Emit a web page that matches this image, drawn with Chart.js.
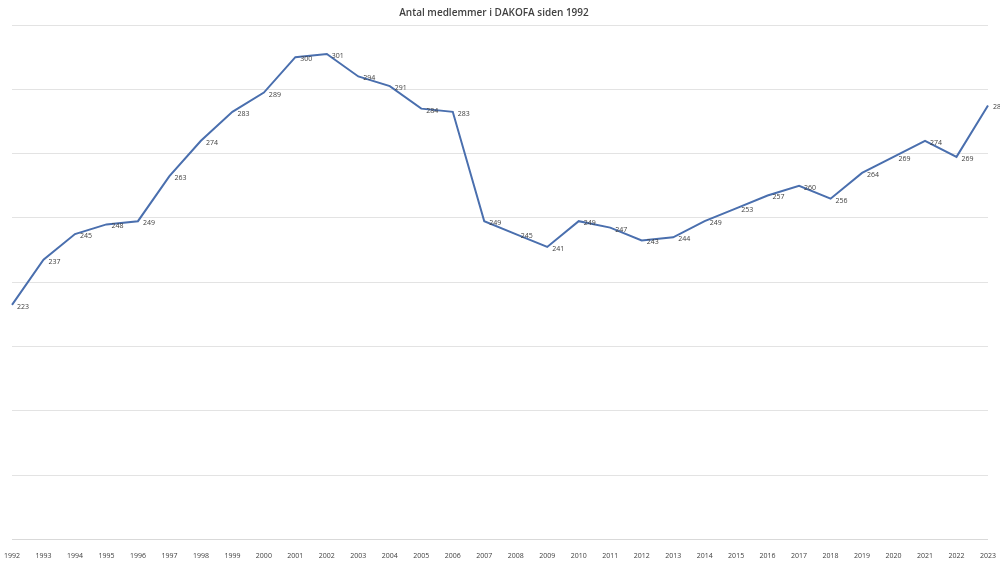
<!DOCTYPE html>
<html><head><meta charset="utf-8">
<script src="https://cdn.jsdelivr.net/npm/chart.js@4"></script>
<style>html,body{margin:0;padding:0;background:#fff}#w{width:1000px;height:564px}</style>
</head><body><div id="w"><canvas id="c"></canvas></div>
<script>
const years = ["1992","1993","1994","1995","1996","1997","1998","1999","2000","2001","2002","2003","2004","2005","2006","2007","2008","2009","2010","2011","2012","2013","2014","2015","2016","2017","2018","2019","2020","2021","2022","2023"];
const members = [223,237,245,248,249,263,274,283,289,300,301,294,291,284,283,249,245,241,249,247,243,244,249,253,257,260,256,264,269,274,269,285];
const labelsPlugin = {
  id:'vals',
  afterDatasetsDraw(chart){
    const ctx = chart.ctx, meta = chart.getDatasetMeta(0);
    ctx.save(); ctx.font='7px "Open Sans", sans-serif'; ctx.fillStyle='#404040';
    ctx.textBaseline='middle'; ctx.textAlign='left';
    meta.data.forEach((p,i)=>{ ctx.fillText(members[i], p.x+5, p.y+2); });
    ctx.restore();
  }
};
new Chart(document.getElementById('c'),{
  type:'line',
  data:{labels:years,datasets:[{data:members,borderColor:'#4a6fae',borderWidth:2,pointRadius:0,tension:0,fill:false}]},
  options:{responsive:true,maintainAspectRatio:false,animation:false,
    layout:{padding:{left:0,right:12,top:0,bottom:0}},
    plugins:{legend:{display:false},tooltip:{enabled:false},
      title:{display:true,text:'Antal medlemmer i DAKOFA siden 1992',color:'#404040',font:{family:'"Open Sans", sans-serif',size:10,weight:'600'},padding:{top:7,bottom:6}}},
    scales:{
      x:{offset:false,grid:{display:false},border:{color:'#d9d9d9'},ticks:{color:'#404040',font:{family:'"Open Sans", sans-serif',size:7},maxRotation:0,autoSkip:false,padding:4}},
      y:{min:150,max:310,ticks:{display:false,stepSize:20},grid:{color:'#e3e3e3',drawTicks:false},border:{display:false}}
    }
  },
  plugins:[labelsPlugin]
});
</script></body></html>
